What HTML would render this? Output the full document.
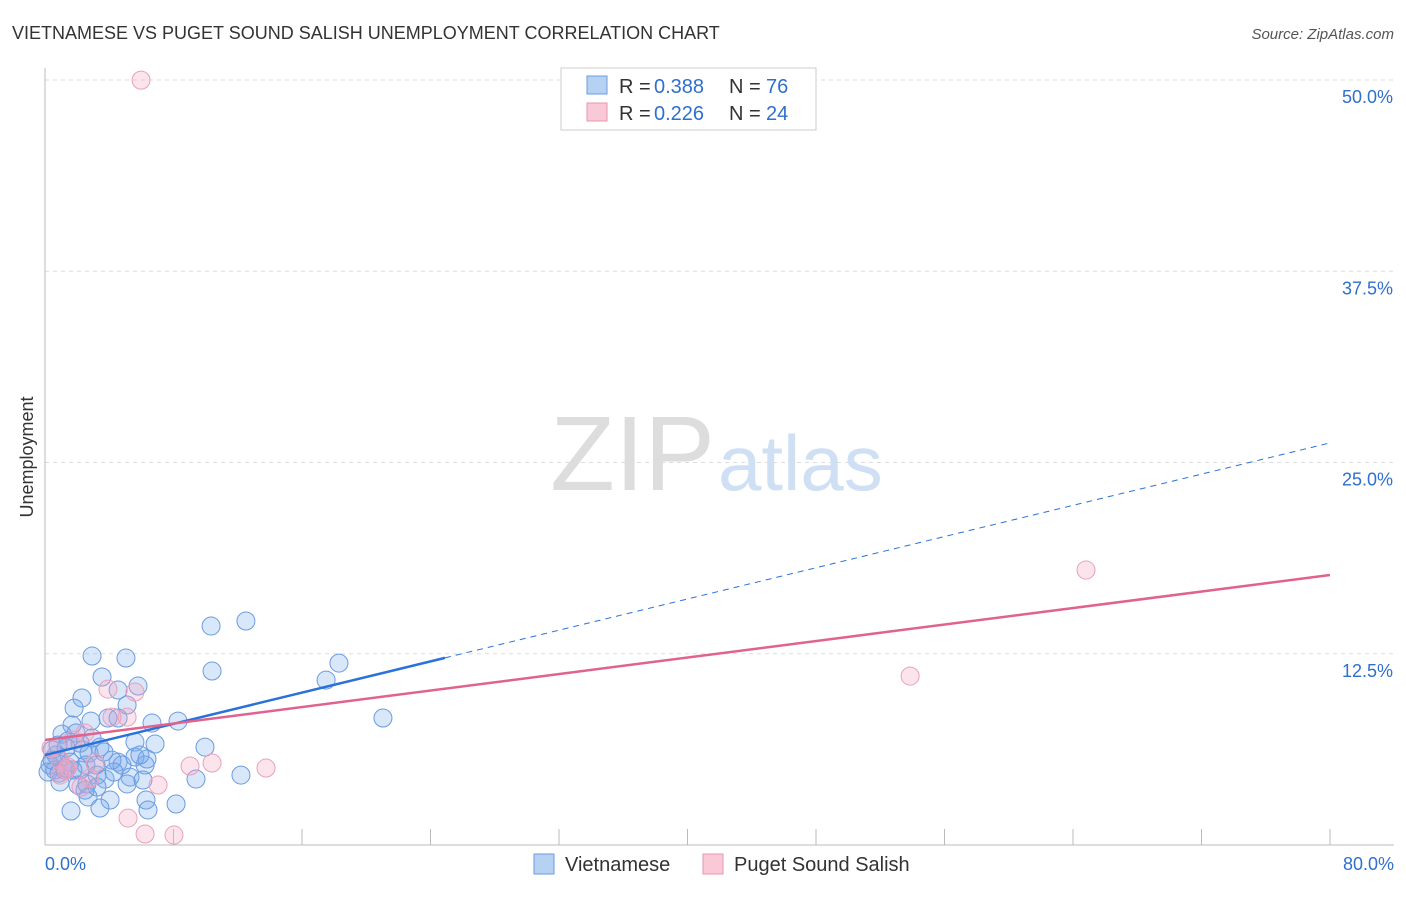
<!DOCTYPE html>
<html><head><meta charset="utf-8"><style>
body{margin:0;background:#fff;font-family:"Liberation Sans",sans-serif}
svg text{font-family:"Liberation Sans",sans-serif}
</style></head><body>
<svg id="c" width="1406" height="892">
<text x="12" y="39" font-size="18" fill="#333">VIETNAMESE VS PUGET SOUND SALISH UNEMPLOYMENT CORRELATION CHART</text>
<text x="1394" y="39" font-size="15" fill="#555" text-anchor="end" font-style="italic">Source: ZipAtlas.com</text>
<text x="0" y="0" transform="translate(33,457) rotate(-90)" font-size="18" fill="#333" text-anchor="middle">Unemployment</text>
<g id="grid"></g>
<text x="715" y="490" font-size="106" fill="#ddd" text-anchor="end" font-family="Liberation Serif">ZIP</text>
<text x="718" y="490" font-size="78" fill="#cfe0f5">atlas</text>
<g id="pts"></g>
<g id="lines"></g>
<g>
<rect x="561" y="68" width="255" height="62" fill="#fff" stroke="#ccc"/>
<rect x="587" y="76" width="20" height="18" fill="#b7d1f3" stroke="#6a9de0"/>
<text x="619" y="93" font-size="20" fill="#333">R =</text>
<text x="654" y="93" font-size="20" fill="#2e6fd0">0.388</text>
<text x="729" y="93" font-size="20" fill="#333">N =</text>
<text x="766" y="93" font-size="20" fill="#2e6fd0">76</text>
<rect x="587" y="103" width="20" height="18" fill="#f9c9d8" stroke="#e895b0"/>
<text x="619" y="120" font-size="20" fill="#333">R =</text>
<text x="654" y="120" font-size="20" fill="#2e6fd0">0.226</text>
<text x="729" y="120" font-size="20" fill="#333">N =</text>
<text x="766" y="120" font-size="20" fill="#2e6fd0">24</text>
</g>
<g>
<rect x="534" y="854" width="20" height="20" fill="#b7d1f3" stroke="#6a9de0"/>
<text x="565" y="871" font-size="20" fill="#333">Vietnamese</text>
<rect x="703" y="854" width="20" height="20" fill="#f9c9d8" stroke="#e895b0"/>
<text x="734" y="871" font-size="20" fill="#333">Puget Sound Salish</text>
</g>
</svg>
<script>
const xTicksLabels=["0.0%","80.0%"];
const yTickValues=[12.5,25,37.5,50];
const yTickLabels=["12.5%","25.0%","37.5%","50.0%"];
const blueX=[2.93,5.04,10.34,12.51,10.40,18.30,17.50,21.04,3.55,2.30,4.55,5.79,5.11,1.81,2.86,3.92,4.55,6.66,8.28,1.68,1.93,1.06,5.60,6.85,9.96,3.42,2.18,1.43,0.44,0.68,0.93,1.31,2.37,2.74,3.67,5.60,6.35,2.55,3.18,4.55,4.79,6.23,0.31,0.62,1.25,0.19,0.87,3.24,3.74,4.30,5.29,12.20,9.40,2.05,2.61,3.24,5.11,6.10,4.05,2.68,6.29,8.16,1.62,3.42,6.41,1.25,0.44,0.81,1.56,2.18,2.93,5.91,4.17,0.93,2.49,1.74];
const blueY=[12.35,12.22,14.31,14.64,11.37,11.89,10.78,8.30,10.98,9.61,10.13,10.39,9.15,8.95,8.10,8.30,8.30,7.97,8.10,7.84,7.32,7.25,6.73,6.60,6.40,6.40,6.66,6.80,6.21,5.88,5.55,6.34,6.21,6.01,6.08,5.75,5.62,5.23,5.23,5.42,5.23,5.23,5.23,4.90,5.03,4.77,4.70,4.57,4.31,4.77,4.44,4.57,4.31,3.92,3.99,3.79,3.99,4.25,2.94,3.14,2.94,2.68,2.22,2.42,2.29,4.90,5.55,6.53,5.42,4.90,6.99,5.88,5.55,4.12,3.59,4.90];
const pinkX=[5.98,64.81,53.86,3.92,5.60,5.11,4.17,2.49,1.74,3.11,0.37,0.93,1.43,9.03,10.40,13.76,2.80,0.93,2.24,7.04,5.17,6.23,8.03,1.31];
const pinkY=[49.99,17.97,11.04,10.19,10.00,8.36,8.36,7.32,6.86,5.36,6.34,5.55,5.10,5.16,5.36,5.03,4.38,4.57,3.79,3.92,1.76,0.72,0.65,4.90];
const blueTrend=[5.88,0.255];
const blueSolidEnd=24.9;
const pinkTrend=[6.86,0.1348];
const NS="http://www.w3.org/2000/svg";
const X0=45,X1=1330,Y0=845,Y50=80;
const sx=v=>X0+(v/80)*(X1-X0);
const sy=v=>Y0-(v/50)*(Y0-Y50);
function mk(tag,attrs,parent){const e=document.createElementNS(NS,tag);for(const k in attrs)e.setAttribute(k,attrs[k]);parent.appendChild(e);return e;}
const grid=document.getElementById('grid');
yTickValues.forEach((v,i)=>{
 const l=mk('line',{x1:X0,x2:1394,y1:sy(v),y2:sy(v),stroke:'#ddd','stroke-dasharray':'4,4'},grid);
 
 
 const t=mk('text',{x:1393,y:sy(v)+23,'font-size':18,fill:'#2e6fd0','text-anchor':'end'},grid);
 t.textContent=yTickLabels[i];
 
 
});
const ax=mk('line',{x1:X0,x2:X0,y1:68,y2:Y0,stroke:'#bbb'},grid);


const bx=mk('line',{x1:X0,x2:1394,y1:Y0,y2:Y0,stroke:'#bbb'},grid);


for(let i=1;i<=10;i++){
 const t=mk('line',{x1:sx(i*8),x2:sx(i*8),y1:829,y2:Y0,stroke:'#bbb'},grid);
 
 
}
[[0,'start',X0],[1,'end',1394]].forEach(([i,a,x])=>{
 const t=mk('text',{x:x,y:870,'font-size':18,fill:'#2e6fd0','text-anchor':a},grid);
 t.textContent=xTicksLabels[i];
 
 
});
const pts=document.getElementById('pts');
blueX.forEach((x,i)=>{
 const c=mk('circle',{cx:sx(x),cy:sy(blueY[i]),r:9,fill:'rgba(120,168,238,0.28)',stroke:'#6a9be0','stroke-width':1},pts);
 
 
});
pinkX.forEach((x,i)=>{
 const c=mk('circle',{cx:sx(x),cy:sy(pinkY[i]),r:9,fill:'rgba(245,165,195,0.3)',stroke:'#eba0b9','stroke-width':1},pts);
 
 
});
const lines=document.getElementById('lines');
const bf=v=>blueTrend[0]+blueTrend[1]*v, pf=v=>pinkTrend[0]+pinkTrend[1]*v;
const l1=mk('line',{x1:sx(0),y1:sy(bf(0)),x2:sx(blueSolidEnd),y2:sy(bf(blueSolidEnd)),stroke:'#2a72d8','stroke-width':2.5},lines);


const l2=mk('line',{x1:sx(blueSolidEnd),y1:sy(bf(blueSolidEnd)),x2:sx(80),y2:sy(bf(80)),stroke:'#2a72d8','stroke-width':1,'stroke-dasharray':'6,5'},lines);


const l3=mk('line',{x1:sx(0),y1:sy(pf(0)),x2:sx(80),y2:sy(pf(80)),stroke:'#e0628e','stroke-width':2.5},lines);


</script>
</body></html>
